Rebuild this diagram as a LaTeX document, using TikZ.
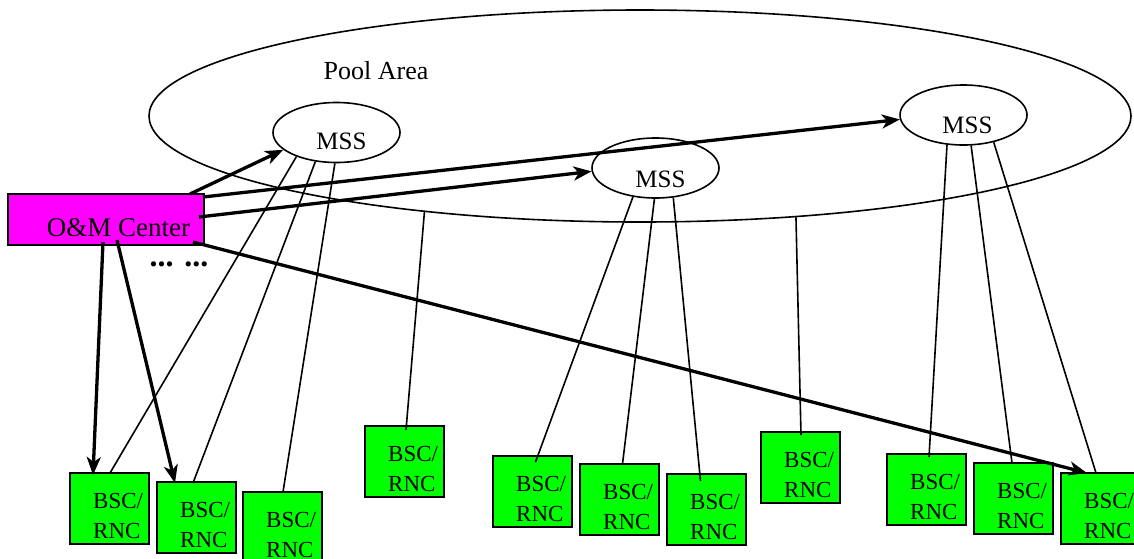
\documentclass[tikz,border=0pt]{standalone}
\usepackage{fontspec}
\setmainfont{Liberation Serif}
\usetikzlibrary{shapes.geometric,arrows.meta,calc}
\definecolor{bscgreen}{RGB}{0,255,0}
\definecolor{ommag}{RGB}{255,0,255}
\newcommand\bscnode[3]{%
  \node[bsc] (#1) at (#2,#3) {};
  \node[bsctext] (#1t) at ([shift={(23,20)}]#1.north west) {BSC/\\RNC};
}
\begin{document}
\begin{tikzpicture}[x=1pt,y=-1pt,
  thinline/.style={line width=1.6pt},
  arr/.style={line width=3.3pt,-{Stealth[length=18pt,width=14pt,inset=5pt]}},
  mss/.style={ellipse,draw,line width=1.6pt,minimum width=127pt,minimum height=60pt,inner sep=0pt},
  lbl/.style={anchor=base,inner sep=0pt},
  bsc/.style={rectangle,draw,line width=2pt,fill=bscgreen,anchor=north west,minimum width=79pt,minimum height=71pt,inner sep=0pt,outer sep=0pt},
  bsctext/.style={anchor=north west,inner sep=0pt,align=left,font=\fontsize{23}{30}\selectfont},
  ombox/.style={rectangle,draw,line width=2pt,fill=ommag,anchor=north west,minimum width=196pt,minimum height=51pt,inner sep=0pt,outer sep=0pt}]
\useasboundingbox (0,0) rectangle (1134,558);
\clip (0,0) rectangle (1134,558);
% pool area
\node[ellipse,draw,line width=1.6pt,minimum width=982pt,minimum height=212pt,inner sep=0pt] (pool) at (640,116) {};
\node[lbl,font=\fontsize{26}{30}\selectfont] (poolt) at (376,79) {Pool Area};
% MSS
\node[mss] (m1) at (336.5,132.5) {};
\node[mss] (m2) at (655.5,168) {};
\node[mss] (m3) at (963.5,115) {};
\node[lbl,font=\fontsize{25}{30}\selectfont] (m1t) at (341.5,149) {MSS};
\node[lbl,font=\fontsize{25}{30}\selectfont] (m2t) at (660.5,187) {MSS};
\node[lbl,font=\fontsize{25}{30}\selectfont] (m3t) at (967.5,133) {MSS};
% O&M
\node[ombox] (om) at (8,194) {};
\node[lbl,font=\fontsize{27}{32}\selectfont] (omt) at (118.5,236) {O\&M Center};
\node[lbl,font=\fontsize{32}{36}\selectfont\bfseries] (dots) at (179,266) {... ...};
% BSC/RNC
\bscnode{b1}{70}{473}
\bscnode{b2}{157}{482}
\bscnode{b3}{243}{492}
\bscnode{b4}{365}{426}
\bscnode{b5}{493}{456}
\bscnode{b6}{580}{464}
\bscnode{b7}{667}{474}
\bscnode{b8}{761}{432}
\bscnode{b9}{887}{454}
\bscnode{b10}{974}{463}
\bscnode{b11}{1061}{473}
% thin connectors
\draw[thinline] (m1.211) -- ([shift={(0.5,0)}]b1.north);
\draw[thinline] (m1.234) -- ([shift={(-3.5,1)}]b2.north);
\draw[thinline] (m1.267) -- ([shift={(0.5,0)}]b3.north);
\draw[thinline] (pool.204) -- ([shift={(1.5,4)}]b4.north);
\draw[thinline] (m2.232) -- ([shift={(3,6)}]b5.north);
\draw[thinline] (m2.268) -- ([shift={(3,0)}]b6.north);
\draw[thinline] (m2.301) -- ([shift={(-6,7)}]b7.north);
\draw[thinline] (pool.327) -- ([shift={(0.5,3)}]b8.north);
\draw[thinline] (m3.241) -- ([shift={(2.5,3)}]b9.north);
\draw[thinline] (m3.284) -- ([shift={(-1.5,0)}]b10.north);
\draw[thinline] (m3.318) -- ([shift={(-4.5,0)}]b11.north);
% thick arrows
\draw[arr] ([shift={(-14,0)}]om.north east) -- (m1.198);
\draw[arr] ([shift={(-1,3)}]om.north east) -- (m3.184);
\draw[arr] ([shift={(-5,23)}]om.north east) -- (m2.183);
\draw[arr] ([shift={(95,48)}]om.north west) -- ([shift={(23,2)}]b1.north west);
\draw[arr] ([shift={(109,46)}]om.north west) -- ([shift={(18,1)}]b2.north west);
\draw[arr] ([shift={(-11,48)}]om.north east) -- ([shift={(26,0)}]b11.north west);
\end{tikzpicture}
\end{document}
